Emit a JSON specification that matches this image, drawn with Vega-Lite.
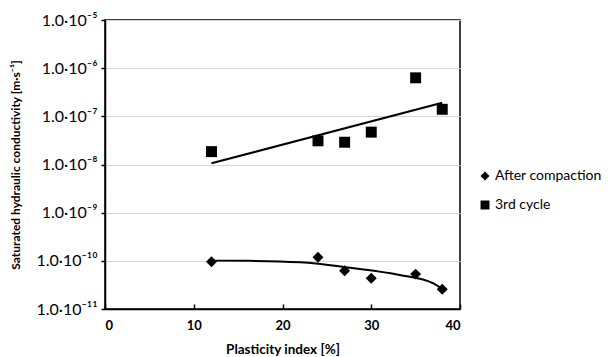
{
  "$schema": "https://vega.github.io/schema/vega-lite/v6.json",
  "width": 355,
  "height": 289,
  "autosize": {"type": "none"},
  "padding": {"left": 105, "top": 20, "right": 149, "bottom": 48},
  "background": "white",
  "config": {
    "view": {"stroke": "black", "strokeWidth": 1.5},
    "font": "Lato"
  },
  "datasets": {
    "points": [
      {"series": "After compaction", "pi": 12, "k": 9.6e-11},
      {"series": "After compaction", "pi": 24, "k": 1.19e-10},
      {"series": "After compaction", "pi": 27, "k": 6.2e-11},
      {"series": "After compaction", "pi": 30, "k": 4.35e-11},
      {"series": "After compaction", "pi": 35, "k": 5.3e-11},
      {"series": "After compaction", "pi": 38, "k": 2.57e-11},
      {"series": "3rd cycle", "pi": 12, "k": 1.85e-8},
      {"series": "3rd cycle", "pi": 24, "k": 3.1e-8},
      {"series": "3rd cycle", "pi": 27, "k": 2.9e-8},
      {"series": "3rd cycle", "pi": 30, "k": 4.7e-8},
      {"series": "3rd cycle", "pi": 35, "k": 6.3e-7},
      {"series": "3rd cycle", "pi": 38, "k": 1.4e-7}
    ],
    "trend": [
      {"series": "After compaction", "pi": 12, "k": 1.01e-10},
      {"series": "After compaction", "pi": 16.3, "k": 1.0e-10},
      {"series": "After compaction", "pi": 22, "k": 9.3e-11},
      {"series": "After compaction", "pi": 27.6, "k": 7.2e-11},
      {"series": "After compaction", "pi": 33.2, "k": 5.1e-11},
      {"series": "After compaction", "pi": 37, "k": 3.4e-11},
      {"series": "After compaction", "pi": 38, "k": 2.6e-11},
      {"series": "3rd cycle", "pi": 12, "k": 1.06e-8},
      {"series": "3rd cycle", "pi": 38, "k": 1.92e-7}
    ]
  },
  "layer": [
    {
      "data": {"name": "trend"},
      "mark": {"type": "line", "color": "black", "strokeWidth": 2, "interpolate": "monotone"},
      "encoding": {
        "x": {"field": "pi", "type": "quantitative"},
        "y": {"field": "k", "type": "quantitative"},
        "detail": {"field": "series"}
      }
    },
    {
      "data": {"name": "points"},
      "mark": {"type": "point", "filled": true, "color": "black", "opacity": 1},
      "encoding": {
        "x": {
          "field": "pi",
          "type": "quantitative",
          "scale": {"domain": [0, 40], "nice": false},
          "axis": {
            "values": [0, 10, 20, 30, 40],
            "title": "Plasticity index [%]",
            "grid": false,
            "domainColor": "black",
            "domainWidth": 1.5,
            "tickColor": "black",
            "tickWidth": 1.5,
            "tickSize": -5,
            "labelPadding": 15,
            "labelFont": "Lato",
            "labelFontWeight": "bold",
            "labelFontSize": 13,
            "labelColor": "black",
            "titleFont": "Lato",
            "titleFontWeight": "bold",
            "titleFontSize": 13.5,
            "titleColor": "black",
            "titlePadding": 10
          }
        },
        "y": {
          "field": "k",
          "type": "quantitative",
          "scale": {"type": "log", "domain": [1e-11, 1e-5], "nice": false},
          "axis": {
            "values": [1e-11, 1e-10, 1e-9, 1e-8, 1e-7, 1e-6, 1e-5],
            "title": "Saturated hydraulic conductivity [m·s⁻¹]",
            "labelExpr": "'1.0·10⁻' + (round(-log(datum.value)/LN10) >= 10 ? '¹' + substring('⁰¹²³⁴⁵⁶⁷⁸⁹', round(-log(datum.value)/LN10)-10, round(-log(datum.value)/LN10)-9) : substring('⁰¹²³⁴⁵⁶⁷⁸⁹', round(-log(datum.value)/LN10), round(-log(datum.value)/LN10)+1))",
            "grid": true,
            "gridColor": "#d4d4d4",
            "gridWidth": 1,
            "domainColor": "black",
            "domainWidth": 1.5,
            "tickColor": "black",
            "tickWidth": 1.5,
            "tickSize": 4,
            "labelPadding": 4,
            "labelFont": "Lato",
            "labelFontSize": 16,
            "labelColor": "black",
            "titleFont": "Lato",
            "titleFontWeight": "bold",
            "titleFontSize": 12,
            "titleColor": "black",
            "titlePadding": 13
          }
        },
        "shape": {
          "field": "series",
          "type": "nominal",
          "scale": {"domain": ["After compaction", "3rd cycle"], "range": ["diamond", "square"]},
          "legend": {
            "title": null,
            "orient": "none",
            "legendX": 373,
            "legendY": 149,
            "rowPadding": 13,
            "labelFont": "Lato",
            "labelFontSize": 14,
            "labelColor": "black",
            "symbolFillColor": "black",
            "symbolStrokeColor": "black",
            "symbolSize": 80,
            "labelOffset": 3
          }
        },
        "size": {"value": 120}
      }
    }
  ]
}
